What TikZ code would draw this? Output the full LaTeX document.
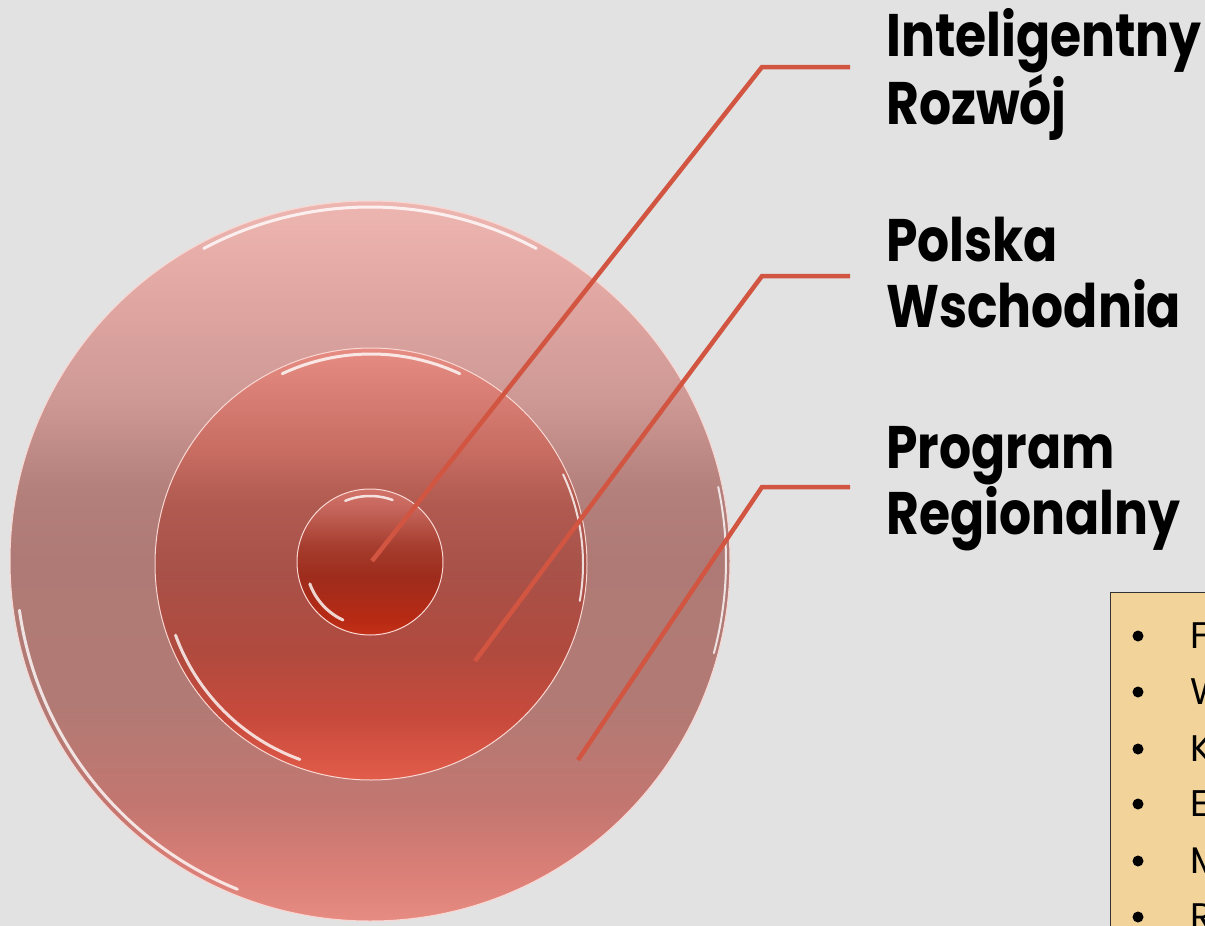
\documentclass[tikz,border=0pt]{standalone}
\usepackage{fontspec}
\usepackage{graphicx}
\newfontfamily\headfont{Poppins}
\newfontfamily\listfont{Poppins}
\definecolor{bg}{HTML}{E2E2E2}
\definecolor{leader}{HTML}{D25542}
\definecolor{boxfill}{HTML}{F2D49A}
\newcommand{\twolines}[2]{\scalebox{0.84}[1]{\begin{tabular}{@{}l@{}}#1\\#2\end{tabular}}}
\pgfdeclareverticalshading{outershade}{100bp}{
  rgb(0bp)=(.902,.549,.510);
  rgb(25bp)=(.902,.549,.510);
  rgb(28bp)=(.863,.502,.471);
  rgb(33bp)=(.765,.463,.439);
  rgb(40bp)=(.698,.478,.455);
  rgb(50bp)=(.686,.478,.459);
  rgb(55bp)=(.706,.502,.486);
  rgb(61bp)=(.804,.596,.580);
  rgb(68bp)=(.878,.651,.635);
  rgb(75bp)=(.933,.714,.694);
  rgb(100bp)=(.933,.714,.694)}
\pgfdeclareverticalshading{middleshade}{100bp}{
  rgb(0bp)=(.886,.361,.290);
  rgb(25bp)=(.886,.361,.290);
  rgb(32bp)=(.784,.290,.235);
  rgb(40bp)=(.690,.290,.243);
  rgb(50bp)=(.659,.322,.290);
  rgb(57bp)=(.690,.353,.314);
  rgb(63bp)=(.784,.424,.384);
  rgb(75bp)=(.902,.549,.510);
  rgb(100bp)=(.902,.549,.510)}
\pgfdeclareverticalshading{innershade}{100bp}{
  rgb(0bp)=(.769,.188,.094);
  rgb(25bp)=(.769,.188,.094);
  rgb(30bp)=(.722,.165,.078);
  rgb(45bp)=(.620,.173,.110);
  rgb(55bp)=(.647,.235,.176);
  rgb(68bp)=(.769,.392,.353);
  rgb(75bp)=(.824,.451,.412);
  rgb(100bp)=(.824,.451,.412)}
\tikzset{
  ring/.style={circle, inner sep=0pt, draw={rgb,255:red,250;green,215;blue,210}, line width=1pt},
  leaderline/.style={draw=leader, line width=4.5pt},
  hilite/.style={draw=white, line width=3pt, opacity=0.8, line cap=round},
  headlabel/.style={anchor=north west, align=left, inner sep=0pt, font=\headfont\bfseries\fontsize{60}{60}\selectfont},
  listitem/.style={anchor=base west, inner sep=0pt, font=\listfont\fontsize{37}{40}\selectfont},
  bulletdot/.style={circle, fill=black, inner sep=0pt, minimum size=11pt}
}
\begin{document}
\begin{tikzpicture}[x=1pt,y=-1pt]
\useasboundingbox (0,0) rectangle (1205,926);
\fill[bg] (0,0) rectangle (1205,926);
\begin{scope}
\clip (0,0) rectangle (1205,926);
% outer circle
\node[ring, minimum size=720pt, shading=outershade] (outer) at (370,561) {};
\draw[hilite] (370,561) ++(-118:354) arc[start angle=-118, end angle=-62, radius=354];
\draw[hilite] (370,561) ++(172:354) arc[start angle=172, end angle=112, radius=354];
\draw[hilite, line width=2pt] (370,561) ++(-12:356) arc[start angle=-12, end angle=15, radius=356];
% middle circle
\node[ring, minimum size=432pt, shading=middleshade] (middle) at (371,564) {};
\draw[hilite] (371,564) ++(-115:210) arc[start angle=-115, end angle=-65, radius=210];
\draw[hilite] (371,564) ++(160:208) arc[start angle=160, end angle=110, radius=208];
\draw[hilite, line width=2pt] (371,564) ++(-25:212) arc[start angle=-25, end angle=10, radius=212];
% inner circle
\node[ring, minimum size=146pt, shading=innershade] (inner) at (370,562) {};
\draw[hilite, line width=2.5pt] (370,562) ++(-112:66) arc[start angle=-112, end angle=-70, radius=66];
\draw[hilite, line width=3pt] (370,562) ++(160:64) arc[start angle=160, end angle=115, radius=64];
% leader anchors
\coordinate (p1) at (372,561);
\coordinate (k1) at (762,67);
\coordinate (e1) at (850,67);
\coordinate (p2) at (475,661);
\coordinate (k2) at (762,276);
\coordinate (e2) at (850,276);
\coordinate (p3) at (578,760);
\coordinate (k3) at (762,487);
\coordinate (e3) at (850,487);
\draw[leaderline] (p1) -- (k1) -- (e1);
\draw[leaderline] (p2) -- (k2) -- (e2);
\draw[leaderline] (p3) -- (k3) -- (e3);
% labels
\node[headlabel] (l1) at (886,8) {\twolines{Inteligentny}{Rozwój}};
\node[headlabel] (l2) at (886,217) {\twolines{Polska}{Wschodnia}};
\node[headlabel] (l3) at (886,426) {\twolines{Program}{Regionalny}};
% box
\node[draw=black!80, line width=1.2pt, fill=boxfill, anchor=north west, minimum width=200pt, minimum height=400pt, inner sep=0pt] (box) at (1110,592) {};
\foreach \t/\y in {F/648, W/704, K/761, E/816, M/873, R/929}{
  \node[bulletdot] at (1138,\y-12) {};
  \node[listitem] at (1190,\y) {\t};
}
\end{scope}
\end{tikzpicture}
\end{document}
